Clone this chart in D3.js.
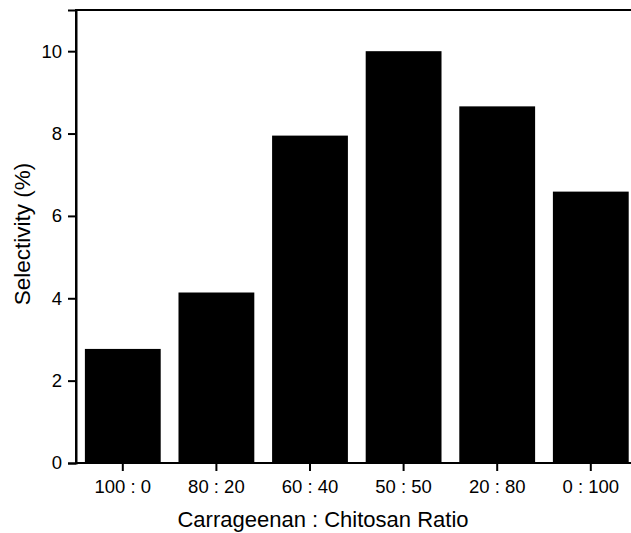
<!DOCTYPE html>
<html><head><meta charset="utf-8">
<script src="https://cdn.jsdelivr.net/npm/d3@7"></script>
<style>body{margin:0;background:#fff}svg{display:block}</style>
</head><body><svg id="c" width="631" height="533"></svg>
<script>
const categories = ["100 : 0","80 : 20","60 : 40","50 : 50","20 : 80","0 : 100"];
const values = [2.77, 4.14, 7.95, 10.0, 8.66, 6.59];
const yTicks = [0,2,4,6,8,10];

const FONT = "Liberation Sans, Arial, sans-serif";
const svg = d3.select("#c");
const L = 76, T = 10, B = 463, step = 93.6;
const R = L + step*categories.length;
const x = d3.scaleBand().domain(categories).range([L,R]).paddingInner(0.19).paddingOuter(0.095);
const y = d3.scaleLinear().domain([0,11]).range([B,T]);

svg.selectAll("rect.bar").data(values).enter().append("rect")
  .attr("x",(d,i)=>x(categories[i])).attr("width",x.bandwidth())
  .attr("y",d=>y(d)).attr("height",d=>B-y(d)).attr("fill","#000");

// frame
svg.append("path").attr("d",`M${L},${B}V${T}H${R}`).attr("fill","none").attr("stroke","#000").attr("stroke-width",2);

const ya = svg.append("g").attr("transform",`translate(${L},0)`)
  .call(d3.axisLeft(y).tickValues(yTicks).tickSize(8).tickPadding(6).tickFormat(d3.format("d")));
ya.attr("font-size",18.5).attr("font-family",FONT);
ya.select(".domain").attr("stroke-width",2);
ya.selectAll(".tick line").attr("stroke-width",2);

const xa = svg.append("g").attr("transform",`translate(0,${B})`)
  .call(d3.axisBottom(x).tickSize(8).tickPadding(9));
xa.attr("font-size",18.5).attr("font-family",FONT);
xa.select(".domain").attr("d",`M${L},0H${R}`).attr("stroke-width",2);
xa.selectAll(".tick line").attr("stroke-width",2);

svg.append("text").attr("x",323).attr("y",527).attr("text-anchor","middle")
  .attr("font-family",FONT).attr("font-size",22).text("Carrageenan : Chitosan Ratio");
svg.append("text").attr("transform","translate(30,234) rotate(-90)").attr("text-anchor","middle")
  .attr("font-family",FONT).attr("font-size",22.5).text("Selectivity (%)");
</script></body></html>
